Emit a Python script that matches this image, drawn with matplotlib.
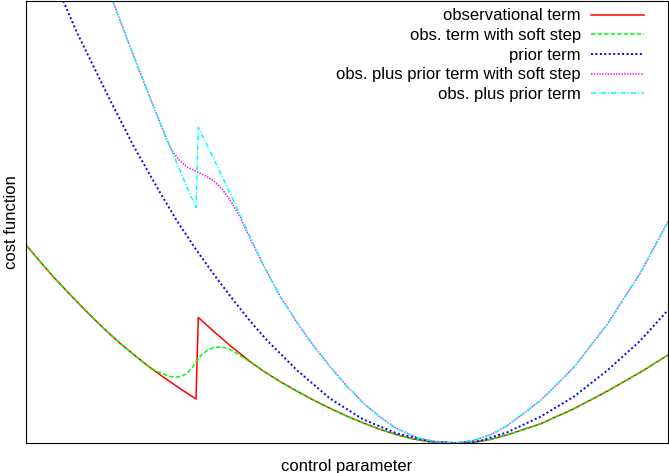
"""cost function vs control parameter, hard step vs soft step"""

import matplotlib
matplotlib.use('Agg')
import matplotlib.pyplot as plt

# values (x: control parameter, y: cost, arbitrary units)
x_obs = [0.00, 0.14, 0.273, 0.44, 0.607, 0.773, 0.94, 1.107, 1.273, 1.44, 1.57,
         1.70,
         1.723, 1.89, 2.04, 2.24, 2.373, 2.54, 2.707, 2.873, 3.04, 3.207, 3.373,
         3.54, 3.707, 3.873, 4.04, 4.29, 4.473, 4.64, 4.807, 5.14, 5.473, 5.807,
         6.14, 6.42]
y_obs = [1.98, 1.815, 1.663, 1.485, 1.313, 1.15, 0.997, 0.86, 0.73, 0.613, 0.525,
         0.44,
         1.255, 1.105, 0.975, 0.815, 0.72, 0.615, 0.52, 0.43, 0.347, 0.27, 0.20,
         0.137, 0.083, 0.04, 0.013, 0.0, 0.007, 0.035, 0.08, 0.19, 0.34, 0.515,
         0.705, 0.88]

x_soft = [0.00, 0.14, 0.273, 0.44, 0.607, 0.773, 0.94, 1.107, 1.207, 1.29, 1.373,
          1.44, 1.49, 1.55, 1.607, 1.66, 1.707, 1.76, 1.82, 1.88, 1.93, 1.99,
          2.05, 2.107, 2.17, 2.24, 2.373, 2.54, 2.707, 2.873, 3.04, 3.207, 3.373,
          3.54, 3.707, 3.873, 4.04, 4.29, 4.473, 4.64, 4.807, 5.14, 5.473, 5.807,
          6.14, 6.42]
y_soft = [1.98, 1.815, 1.663, 1.485, 1.313, 1.15, 0.997, 0.86, 0.78, 0.725, 0.69,
          0.667, 0.657, 0.665, 0.695, 0.75, 0.82, 0.885, 0.93, 0.955, 0.96, 0.952,
          0.93, 0.897, 0.855, 0.81, 0.72, 0.615, 0.52, 0.43, 0.347, 0.27, 0.20,
          0.137, 0.083, 0.04, 0.013, 0.0, 0.007, 0.035, 0.08, 0.19, 0.34, 0.515,
          0.705, 0.88]

x_prior = [0.373, 0.507, 0.673, 0.84, 1.073, 1.34, 1.507, 1.707, 1.89, 2.073,
           2.24, 2.407, 2.707, 3.04, 3.373, 3.707, 4.04, 4.29, 4.54, 4.807, 5.14,
           5.473, 5.807, 6.14, 6.42]
y_prior = [4.42, 4.11, 3.77, 3.43, 2.975, 2.505, 2.225, 1.925, 1.67, 1.43,
           1.22, 1.03, 0.73, 0.445, 0.235, 0.097, 0.017, 0.0, 0.02, 0.105, 0.26,
           0.46, 0.72, 1.02, 1.33]

x_sum_soft = [0.867, 1.007, 1.173, 1.34, 1.407, 1.46, 1.54, 1.61, 1.707, 1.807,
              1.89, 1.96, 2.04, 2.14, 2.223, 2.373, 2.54, 2.707, 2.873, 3.04,
              3.207, 3.373, 3.54, 3.707, 3.907, 4.107, 4.29, 4.473, 4.64, 4.807,
              5.14, 5.473, 5.807, 6.14, 6.42]
y_sum_soft = [4.42, 4.05, 3.62, 3.205, 3.035, 2.925, 2.82, 2.76, 2.715, 2.665,
              2.61, 2.54, 2.43, 2.26, 2.08, 1.78, 1.47, 1.21, 0.975, 0.765,
              0.57, 0.40, 0.26, 0.145, 0.055, 0.01, 0.0, 0.025, 0.08, 0.17,
              0.42, 0.75, 1.18, 1.695, 2.213]

x_sum = [0.867, 1.007, 1.173, 1.34, 1.457, 1.607, 1.70, 1.723, 1.84, 2.007, 2.14,
         2.223, 2.373, 2.54, 2.707, 2.873, 3.04, 3.207, 3.373, 3.54, 3.707, 3.907,
         4.107, 4.29, 4.473, 4.64, 4.807, 5.14, 5.473, 5.807, 6.14, 6.42]
y_sum = [4.42, 4.05, 3.62, 3.205, 2.922, 2.565, 2.355, 3.155, 2.92, 2.57, 2.285,
         2.10, 1.78, 1.47, 1.21, 0.975, 0.765, 0.57, 0.40, 0.26, 0.145, 0.055,
         0.01, 0.0, 0.025, 0.08, 0.17, 0.42, 0.75, 1.18, 1.695, 2.213]

plt.rcParams['font.family'] = ['Liberation Sans', 'DejaVu Sans']
plt.rcParams['lines.scale_dashes'] = False
FS = 12

fig = plt.figure(figsize=(6.69, 4.73), dpi=100)
ax = fig.add_axes([26/669, 30/473, 642/669, 442/473])

lw = 1.1
ax.plot(x_obs, y_obs, color='#ff0000', lw=lw, label='observational term')
ax.plot(x_soft, y_soft, color='#00ff00', lw=lw, dashes=(3.2, 1.5),
        label='obs. term with soft step')
ax.plot(x_prior, y_prior, color='#0000ff', lw=1.4, dashes=(1.4, 1.8),
        label='prior term')
ax.plot(x_sum_soft, y_sum_soft, color='#ff00ff', lw=lw, dashes=(1.0, 1.0),
        label='obs. plus prior term with soft step')
ax.plot(x_sum, y_sum, color='#00ffff', lw=lw, dashes=(3.6, 1.4, 0.8, 1.4),
        label='obs. plus prior term')

ax.set_xlim(0, 6.42)
ax.set_ylim(0, 4.42)
ax.set_xticks([])
ax.set_yticks([])
for s in ax.spines.values():
    s.set_linewidth(0.8)
    s.set_color('black')

ax.set_xlabel('control parameter', fontsize=FS, labelpad=11.5)
ax.set_ylabel('cost function', fontsize=FS, labelpad=5)

ax.legend(
    loc='upper right',
    bbox_to_anchor=(644/669, 1 - 8.5/473),
    bbox_transform=fig.transFigure,
    frameon=False,
    markerfirst=False,
    handlelength=3.2,
    handletextpad=0.6,
    labelspacing=0.28,
    borderpad=0,
    borderaxespad=0,
    fontsize=FS,
)

fig.savefig('out.png', dpi=100)
